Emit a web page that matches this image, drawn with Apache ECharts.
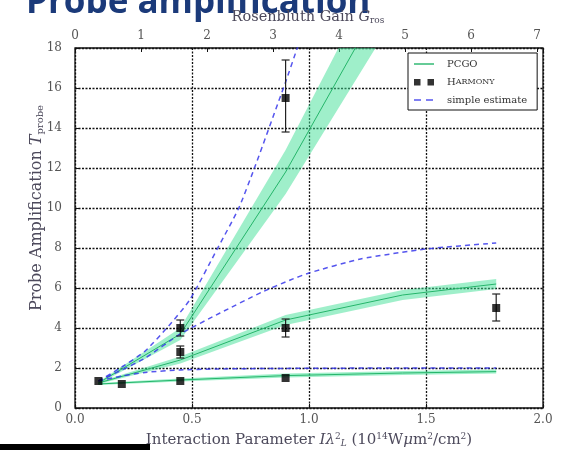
<!DOCTYPE html>
<html><head><meta charset="utf-8">
<script src="https://cdn.jsdelivr.net/npm/echarts@6/dist/echarts.min.js"></script>
<style>html,body{margin:0;padding:0;background:#fff}#c{width:565px;height:451px}</style>
</head><body><div id="c"></div>
<script>
// ---- data ----
const xTickStep = 0.5;
const yTickStep = 2;
const gainTickStep = 1;

const harmonyX = [0.1, 0.2, 0.45, 0.45, 0.45, 0.9, 0.9, 0.9, 1.8];
const harmonyY = [1.35, 1.2, 1.35, 2.8, 4.0, 1.5, 4.0, 15.5, 5.0];
const harmonyErrX = [0.45, 0.45, 0.9, 0.9, 1.8];
const harmonyErrLo = [2.5, 3.6, 3.55, 13.8, 4.35];
const harmonyErrHi = [3.1, 4.4, 4.45, 17.4, 5.7];

const pcgoX = [0.1, 0.45, 0.9, 1.4, 1.8];
const pcgoLowY = [1.2, 1.4, 1.62, 1.75, 1.82];
const pcgoLowBand = [0.05, 0.08, 0.1, 0.1, 0.1];
const pcgoMidY = [1.25, 2.4, 4.4, 5.65, 6.2];
const pcgoMidBand = [0.05, 0.18, 0.25, 0.25, 0.25];
const pcgoHighX = [0.1, 0.45, 0.9, 1.4];
const pcgoHighY = [1.25, 3.7, 11.8, 22.2];
const pcgoHighBand = [0.05, 0.3, 1.1, 2.0];

const estFlatX = [0.1, 0.2, 0.3, 0.45, 0.6, 0.9, 1.35, 1.8];
const estFlatY = [1.35, 1.6, 1.78, 1.9, 1.95, 1.98, 2.0, 2.0];
const estMidX = [0.1, 0.2, 0.3, 0.45, 0.62, 0.8, 0.92, 1.0, 1.22, 1.5, 1.8];
const estMidY = [1.35, 1.9, 2.5, 3.7, 4.75, 5.8, 6.4, 6.75, 7.45, 7.95, 8.25];
const estHighX = [0.1, 0.2, 0.3, 0.4, 0.49, 0.61, 0.7, 0.77, 0.9, 0.95, 1.0];
const estHighY = [1.35, 2.05, 2.85, 4.1, 5.4, 8.0, 10.0, 12.1, 16.3, 18.0, 19.6];

// ---- helpers ----
const zip = (xs, ys) => xs.map((x, i) => [x, ys[i]]);
const SERIF = 'DejaVu Serif';
const GREEN = '#25b56a';
const BAND = 'rgba(64,224,150,0.5)';
const BLUE = 'rgba(55,55,235,0.85)';
const TXT = '#4d4a5c';

function bandSeries(id, xs, ys, hw) {
  const rows = xs.map((x, i) => [x, ys[i] - hw[i], ys[i] + hw[i]]);
  return { name: id, type: 'custom', silent: true, z: 1,
    data: rows, encode: { x: 0, y: [1, 2] },
    renderItem: (params, api) => {
      if (params.dataIndex !== 0) return null;
      const up = rows.map(r => api.coord([r[0], r[2]]));
      const dn = rows.map(r => api.coord([r[0], r[1]])).reverse();
      const cs = params.coordSys;
      return { type: 'polygon', shape: { points: up.concat(dn) },
        style: { fill: BAND, stroke: null },
        clipPath: { type: 'rect', shape: { x: cs.x, y: cs.y, width: cs.width, height: cs.height } } };
    } };
}
function pcgoLine(xs, ys) {
  return { name: 'PCGO', type: 'line', symbol: 'none', data: zip(xs, ys),
    lineStyle: { color: GREEN, width: 1 }, itemStyle: { color: GREEN }, z: 2 };
}
function estLine(xs, ys) {
  return { name: 'simple estimate', type: 'line', symbol: 'none', smooth: 0.2, data: zip(xs, ys),
    lineStyle: { color: BLUE, width: 1.5, type: [5, 4] }, itemStyle: { color: BLUE }, z: 3 };
}
function richSet(size) {
  return {
    it: { fontFamily: SERIF, fontStyle: 'italic', fontSize: size, fill: TXT },
    sup: { fontFamily: SERIF, fontSize: Math.round(size * 0.62), fill: TXT, padding: [0, 0, 7, 0] },
    sub: { fontFamily: SERIF, fontSize: Math.round(size * 0.62), fill: TXT, padding: [7, 0, 0, 0] },
    subi: { fontFamily: SERIF, fontStyle: 'italic', fontSize: Math.round(size * 0.62), fill: TXT, padding: [7, 0, 0, 0] }
  };
}

const chart = echarts.init(document.getElementById('c'));
const labelStyle = { fontFamily: SERIF, fontSize: 12, color: '#555' };
const dotted = { color: '#111', width: 1.3, type: [2, 1.5] };

chart.setOption({
  animation: false,
  grid: { left: 75, right: 22, top: 48, bottom: 43, show: true, borderColor: '#111', borderWidth: 1.3, backgroundColor: 'transparent' },
  xAxis: [
    { type: 'value', min: 0, max: 2, interval: xTickStep, position: 'bottom',
      axisLine: { show: false }, axisTick: { show: true, inside: true, length: 4, lineStyle: { color: '#111' } },
      splitLine: { show: true, lineStyle: dotted },
      axisLabel: Object.assign({ margin: 6, formatter: v => v.toFixed(1) }, labelStyle) },
    { type: 'value', min: 0, max: 7.09, interval: gainTickStep, position: 'top',
      axisLine: { show: false }, axisTick: { show: true, inside: true, length: 4, lineStyle: { color: '#111' } },
      splitLine: { show: false },
      axisLabel: Object.assign({ margin: 6, formatter: v => Number.isInteger(v) ? String(v) : '' }, labelStyle) }
  ],
  yAxis: { type: 'value', min: 0, max: 18, interval: yTickStep,
    axisLine: { show: false }, axisTick: { show: true, inside: true, length: 4, lineStyle: { color: '#111' } },
    splitLine: { show: true, lineStyle: dotted },
    axisLabel: Object.assign({ margin: 13 }, labelStyle) },
  legend: {
    orient: 'vertical', left: 408, top: 53, padding: [6, 10, 5, 6], itemGap: 8,
    itemWidth: 20, itemHeight: 8, borderColor: '#111', borderWidth: 1, backgroundColor: '#fff',
    selectedMode: false,
    textStyle: { fontFamily: SERIF, fontSize: 10, color: '#333', padding: [0, 0, 0, 8],
      rich: { a: { fontFamily: SERIF, fontSize: 10, color: '#333' }, b: { fontFamily: SERIF, fontSize: 8, color: '#333' } } },
    formatter: n => n === 'HARMONY' ? '{a|H}{b|ARMONY}' : n,
    data: [
      { name: 'PCGO', icon: 'path://M0,0M20,8M0,3.3h20v1.4h-20z' },
      { name: 'HARMONY', icon: 'path://M0,0M20,8M0,1h6.5v6.5h-6.5zM13.5,1h6.5v6.5h-6.5z' },
      { name: 'simple estimate', icon: 'path://M0,0M20,8M0,3.2h7v1.6h-7zM12,3.2h7v1.6h-7z' }
    ]
  },
  graphic: [
    { type: 'text', x: 26, y: 21, z: 100,
      style: { text: 'Probe amplification', font: 'bold 35px "Open Sans"', fill: '#1b3a7a', verticalAlign: 'bottom', lineHeight: 36 } },
    { type: 'text', x: 308, y: 17, z: 100,
      style: { text: 'Rosenbluth Gain {it|G}{sub|ros}', align: 'center', verticalAlign: 'middle',
        font: '14.5px "DejaVu Serif"', fill: TXT, rich: richSet(14.5) } },
    { type: 'text', x: 309, y: 440, z: 100,
      style: { text: 'Interaction Parameter {it|Iλ}{sup|2}{subi|L} (10{sup|14}W{it|μ}m{sup|2}/cm{sup|2})',
        align: 'center', verticalAlign: 'middle', font: '15px "DejaVu Serif"', fill: TXT, rich: richSet(15) } },
    { type: 'text', x: 37, y: 208, rotation: Math.PI / 2, z: 100,
      style: { text: 'Probe Amplification {it|T}{sub|probe}', align: 'center', verticalAlign: 'middle',
        font: '16px "DejaVu Serif"', fill: TXT, rich: richSet(16) } },
    { type: 'rect', shape: { x: 0, y: 444, width: 150, height: 6 }, style: { fill: '#000' }, z: 100 }
  ],
  series: [
    bandSeries('b1', pcgoX, pcgoLowY, pcgoLowBand),
    bandSeries('b2', pcgoX, pcgoMidY, pcgoMidBand),
    bandSeries('b3', pcgoHighX, pcgoHighY, pcgoHighBand),
    pcgoLine(pcgoX, pcgoLowY),
    pcgoLine(pcgoX, pcgoMidY),
    pcgoLine(pcgoHighX, pcgoHighY),
    estLine(estFlatX, estFlatY),
    estLine(estMidX, estMidY),
    estLine(estHighX, estHighY),
    { name: 'errors', type: 'custom', z: 4, silent: true,
      data: harmonyErrX.map((x, i) => [x, harmonyErrLo[i], harmonyErrHi[i]]),
      encode: { x: 0, y: [1, 2] },
      renderItem: (params, api) => {
        const x = api.value(0);
        const p1 = api.coord([x, api.value(1)]);
        const p2 = api.coord([x, api.value(2)]);
        const w = 4, st = { stroke: '#222', lineWidth: 1.2 };
        return { type: 'group', children: [
          { type: 'line', shape: { x1: p1[0], y1: p1[1], x2: p2[0], y2: p2[1] }, style: st },
          { type: 'line', shape: { x1: p1[0] - w, y1: p1[1], x2: p1[0] + w, y2: p1[1] }, style: st },
          { type: 'line', shape: { x1: p2[0] - w, y1: p2[1], x2: p2[0] + w, y2: p2[1] }, style: st }
        ] };
      } },
    { name: 'HARMONY', type: 'scatter', symbol: 'rect', symbolSize: 8, z: 5,
      data: zip(harmonyX, harmonyY), itemStyle: { color: '#000' } }
  ]
});
</script></body></html>
